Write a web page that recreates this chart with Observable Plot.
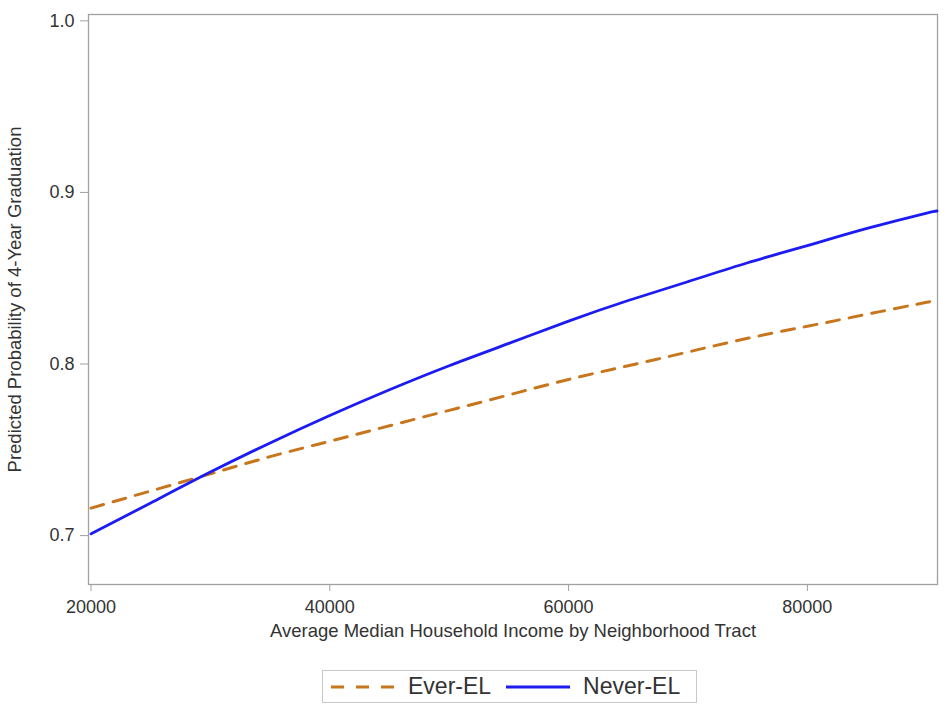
<!DOCTYPE html>
<html>
<head>
<meta charset="utf-8">
<script src="https://cdn.jsdelivr.net/npm/d3@7"></script>
<script src="https://cdn.jsdelivr.net/npm/@observablehq/plot@0.6"></script>
<style>
  html, body { margin: 0; padding: 0; background: #fff; }
  body { font-family: "Liberation Sans", Arial, sans-serif; width: 952px; }
  #legend {
    position: absolute; left: 322px; top: 670px; width: 375px; height: 33px;
    border: 1px solid #c8c8c8; box-sizing: border-box;
    display: flex; align-items: center; justify-content: flex-start;
    font-size: 23px; color: #333; padding-left: 7px;
  }
  #legend span { display: inline-flex; align-items: center; }
  #legend svg { display: block; }
</style>
</head>
<body>
<div id="chart"></div>
<div id="legend"></div>
<script>
// Data
const incomes = [20000, 25000, 30000, 35000, 40000, 45000, 50000, 55000, 60000, 65000, 70000, 75000, 80000, 85000, 90000, 90800];
const everEL  = [0.716, 0.726, 0.736, 0.746, 0.755, 0.764, 0.773, 0.782, 0.791, 0.799, 0.807, 0.815, 0.822, 0.829, 0.836, 0.837];
const neverEL = [0.701, 0.719, 0.737, 0.754, 0.770, 0.785, 0.799, 0.812, 0.825, 0.837, 0.848, 0.859, 0.869, 0.879, 0.888, 0.889];
const seriesNames = ["Ever-EL", "Never-EL"];
const xTicks = [20000, 40000, 60000, 80000];
const yTicks = [0.7, 0.8, 0.9, 1.0];
const xLabel = "Average Median Household Income by Neighborhood Tract";
const yLabel = "Predicted Probability of 4-Year Graduation";

const colors = {"Ever-EL": "#c8761e", "Never-EL": "#1c1cf2"};

const everData = incomes.map((x, i) => ({x, y: everEL[i], series: seriesNames[0]}));
const neverData = incomes.map((x, i) => ({x, y: neverEL[i], series: seriesNames[1]}));

const font = '"Liberation Sans", Arial, sans-serif';

const chart = Plot.plot({
  width: 952,
  height: 650,
  marginLeft: 88,
  marginRight: 15,
  marginTop: 14,
  marginBottom: 66,
  style: {fontFamily: font, fontSize: "16px", color: "#333", background: "#fff"},
  x: {domain: [19790, 90900]},
  y: {domain: [0.6715, 1.0037]},
  marks: [
    Plot.frame({stroke: "#a0a0a0", strokeWidth: 1.3}),
    Plot.axisX({ticks: xTicks, tickFormat: d => String(d), tickSize: 7, tickPadding: 9,
      stroke: "#a0a0a0", fill: "#333", fontSize: 18, label: null}),
    Plot.axisY({ticks: yTicks, tickFormat: d3.format(".1f"), tickSize: 8, tickPadding: 6,
      stroke: "#a0a0a0", fill: "#333", fontSize: 18, label: null}),
    Plot.line(everData, {x: "x", y: "y", stroke: colors["Ever-EL"], strokeWidth: 3,
      strokeDasharray: "13,10", curve: "natural"}),
    Plot.line(neverData, {x: "x", y: "y", stroke: colors["Never-EL"], strokeWidth: 2.8,
      curve: "natural"}),
    Plot.text([xLabel], {frameAnchor: "bottom", dy: 47, lineAnchor: "middle", textAnchor: "middle",
      fontSize: 18.5, fill: "#333"}),
    Plot.text([yLabel], {frameAnchor: "left", dx: -73, rotate: -90, lineAnchor: "middle",
      textAnchor: "middle", fontSize: 18.5, fill: "#333"})
  ]
});
document.getElementById("chart").appendChild(chart);

// Legend
const legend = d3.select("#legend");
seriesNames.forEach((name, i) => {
  const item = legend.append("span").style("margin-right", i === 0 ? "14px" : "0px");
  const svg = item.append("svg").attr("width", 66).attr("height", 10).style("margin-right", "12px");
  svg.append("line").attr("x1", 1).attr("x2", 65).attr("y1", 5).attr("y2", 5)
    .attr("stroke", colors[name]).attr("stroke-width", 3)
    .attr("stroke-dasharray", name === "Ever-EL" ? "13,12" : null);
  item.append("span").text(name);
});
</script>
</body>
</html>
